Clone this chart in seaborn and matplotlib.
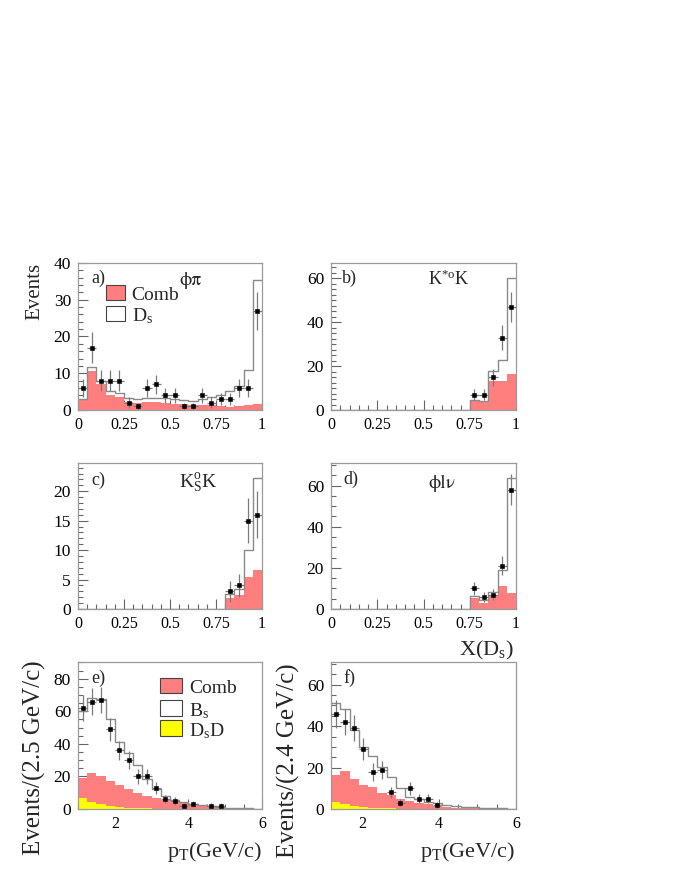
import numpy as np
import pandas as pd
import matplotlib
matplotlib.use("Agg")
import matplotlib.pyplot as plt
import seaborn as sns
from matplotlib.ticker import MultipleLocator, FixedLocator, FixedFormatter
from matplotlib.patches import Rectangle

# ---------------- data ----------------
# X(Ds) panels: 20 bins of 0.05 from 0 to 1
a_comb = [2.6, 10.7, 7.0, 4.1, 3.6, 2.2, 1.9, 2.1, 2.1, 1.8,
          1.6, 1.5, 1.4, 1.4, 1.4, 1.1, 0.9, 1.1, 1.3, 1.7]
a_total = [3.0, 11.6, 8.0, 5.2, 4.7, 3.4, 3.0, 3.2, 3.4, 3.2,
           3.0, 2.6, 2.4, 3.1, 3.6, 4.0, 5.2, 6.4, 10.8, 35.5]
a_data = [6, 17, 8, 8, 8, 2, 1, 6, 7, 4, 4, 1, 1, 4, 2, 3, 3, 6, 6, 27]

b_comb = [0] * 15 + [4.1, 3.8, 13.1, 13.1, 16.6]
b_total = [0] * 15 + [4.5, 4.1, 17.8, 22.7, 60.0]
b_data = [0] * 15 + [7, 7, 15, 33, 47]

c_comb = [0] * 16 + [1.8, 2.3, 5.5, 6.6]
c_total = [0] * 16 + [2.5, 3.4, 10.0, 22.3]
c_data = [0] * 16 + [3, 4, 15, 16]

d_comb = [0] * 15 + [5.3, 2.9, 6.1, 11.4, 8.0]
d_total = [0] * 15 + [6.4, 4.5, 8.5, 19.0, 63.7]
d_data = [0] * 15 + [10, 6, 7, 21, 58]

# pT panels
e_comb = [19.0, 22.0, 20.5, 17.4, 14.8, 12.0, 10.0, 8.0, 6.6, 5.5,
          4.5, 3.5, 2.8, 2.2, 1.7, 1.2, 0.8, 0.5, 0.3, 0.2]
e_dsd = [7.0, 4.5, 3.2, 1.9, 1.3, 0.9, 0.6, 0.4, 0.3, 0.2,
         0.15, 0.1, 0.1, 0.05, 0.05, 0, 0, 0, 0, 0]
e_total = [60.0, 68.0, 67.5, 55.0, 41.0, 34.5, 27.0, 18.5, 12.0, 8.0,
           5.5, 4.0, 3.2, 2.5, 1.8, 1.4, 0.9, 0.6, 0.4, 0.2]
e_data = [62, 66, 67, 49, 36, 30, 20, 20, 13, 6, 5, 2, 3, 0, 2, 2, 0, 0, 0, 0]

f_comb = [16.4, 18.4, 14.4, 11.6, 10.5, 7.6, 6.8, 4.7, 4.0, 3.0,
          2.3, 1.6, 1.1, 0.7, 0.5, 0.3, 0.2, 0.1, 0.1, 0.05]
f_dsd = [3.5, 2.4, 1.5, 1.0, 0.7, 0.5, 0.3, 0.2, 0.15, 0.1,
         0.05, 0, 0, 0, 0, 0, 0, 0, 0, 0]
f_total = [51.0, 48.5, 38.0, 30.0, 25.5, 20.5, 15.5, 10.0, 6.0, 4.7,
           3.5, 2.7, 2.0, 1.5, 1.1, 0.8, 0.6, 0.4, 0.3, 0.2]
f_data = [46, 42, 39, 29, 18, 19, 8, 3, 10, 5, 5, 2, 0, 0, 0, 0, 0, 0, 0, 0]

x_ticks_X = [0, 0.25, 0.5, 0.75, 1]
x_ticklabels_X = ["0", "0.25", "0.5", "0.75", "1"]
x_ticks_pt = [2, 4, 6]
x_ticklabels_pt = ["2", "4", "6"]

# ---------------- style ----------------
sns.set_theme(style="white")
plt.rcParams["font.family"] = ["Liberation Serif", "DejaVu Serif"]
plt.rcParams["mathtext.fontset"] = "custom"
plt.rcParams["mathtext.rm"] = "Liberation Serif"
plt.rcParams["mathtext.it"] = "Liberation Serif:italic"
plt.rcParams["mathtext.bf"] = "Liberation Serif:bold"

RED = "#ff7f7f"
YEL = "#ffff00"
GRAY = "#8a8a8a"
FRAME = "#9a9a9a"
GREEK = ["STIXGeneral", "Liberation Serif", "DejaVu Serif"]

W, H = 674, 872
fig = plt.figure(figsize=(W / 100, H / 100), dpi=100)


def rect(x0, x1, y0, y1):
    return [x0 / W, 1 - y1 / H, (x1 - x0) / W, (y1 - y0) / H]


def draw_panel(ax, edges, comb, total, data, dsd=None):
    edges = np.asarray(edges, float)
    centers = 0.5 * (edges[:-1] + edges[1:])
    half = 0.5 * (edges[1] - edges[0])
    df = pd.DataFrame({"x": centers, "comb": comb, "total": total,
                       "data": np.asarray(data, float)})
    if dsd is not None:
        df["dsd"] = dsd
    bins = edges.tolist()
    sns.histplot(data=df, x="x", weights="comb", bins=bins, element="step", fill=True,
                 color=RED, alpha=1, linewidth=0, ax=ax)
    if dsd is not None:
        sns.histplot(data=df, x="x", weights="dsd", bins=bins, element="step", fill=True,
                     color=YEL, alpha=1, linewidth=0, ax=ax)
    sns.histplot(data=df, x="x", weights="total", bins=bins, element="step", fill=False,
                 color=GRAY, linewidth=1.0, ax=ax)
    pts = df[df["data"] > 0]
    ax.errorbar(pts["x"], pts["data"], yerr=np.sqrt(pts["data"]), xerr=half, fmt="s",
                ms=2.4, mew=0.4, mfc="black", mec="black", ecolor="#7a7a7a",
                elinewidth=0.9, capsize=0, zorder=5)
    ax.set_xlabel("")
    ax.set_ylabel("")


def style_axes(ax, xlim, ylim, xticks, xticklabels, xminor, ymajor, yminor):
    ax.set_xlim(*xlim)
    ax.set_ylim(*ylim)
    ax.xaxis.set_major_locator(FixedLocator(xticks))
    ax.xaxis.set_major_formatter(FixedFormatter(xticklabels))
    ax.xaxis.set_minor_locator(MultipleLocator(xminor))
    ax.yaxis.set_major_locator(MultipleLocator(ymajor))
    ax.yaxis.set_minor_locator(MultipleLocator(yminor))
    ax.tick_params(which="both", direction="in", bottom=True, left=True,
                   top=False, right=False, color="#666666", width=0.8)
    ax.tick_params(which="major", length=7, pad=5)
    ax.tick_params(which="minor", length=3.5)
    ax.tick_params(axis="x", labelsize=11.5, labelcolor="black")
    ax.tick_params(axis="y", labelsize=12.5, labelcolor="black")
    for s in ax.spines.values():
        s.set_color(FRAME)
        s.set_linewidth(0.9)
        s.set_visible(True)
    ax.set_facecolor("white")
    ax.grid(False)


edgesX = np.linspace(0, 1, 21)
edges_e = np.linspace(1.0, 6.0, 21)
edges_f = np.linspace(1.2, 6.0, 21)

axa = fig.add_axes(rect(78, 262, 263, 410))
axb = fig.add_axes(rect(331, 516, 263, 410))
axc = fig.add_axes(rect(78, 262, 463, 609))
axd = fig.add_axes(rect(331, 516, 463, 609))
axe = fig.add_axes(rect(78, 262, 662, 809))
axf = fig.add_axes(rect(331, 516, 662, 809))

draw_panel(axa, edgesX, a_comb, a_total, a_data)
draw_panel(axb, edgesX, b_comb, b_total, b_data)
draw_panel(axc, edgesX, c_comb, c_total, c_data)
draw_panel(axd, edgesX, d_comb, d_total, d_data)
draw_panel(axe, edges_e, e_comb, e_total, e_data, e_dsd)
draw_panel(axf, edges_f, f_comb, f_total, f_data, f_dsd)

style_axes(axa, (0, 1), (0, 40), x_ticks_X, x_ticklabels_X, 0.05, 10, 2)
style_axes(axb, (0, 1), (0, 67), x_ticks_X, x_ticklabels_X, 0.05, 20, 2.5)
style_axes(axc, (0, 1), (0, 24.8), x_ticks_X, x_ticklabels_X, 0.05, 5, 1)
style_axes(axd, (0, 1), (0, 71), x_ticks_X, x_ticklabels_X, 0.05, 20, 5)
style_axes(axe, (1, 6), (0, 90.3), x_ticks_pt, x_ticklabels_pt, 0.5, 20, 5)
style_axes(axf, (1.2, 6), (0, 71), x_ticks_pt, x_ticklabels_pt, 0.5, 20, 5)

# panel annotations
TS = 13
axa.text(0.07, 0.864, "a)", transform=axa.transAxes, fontsize=TS)
axa.text(0.549, 0.85, "\u03d5\u03c0", transform=axa.transAxes, fontsize=TS + 1,
         family=GREEK)
axb.text(0.06, 0.862, "b)", transform=axb.transAxes, fontsize=TS)
axb.text(0.524, 0.85, r"K$^{*\rm o}$K", transform=axb.transAxes, fontsize=TS)
axc.text(0.07, 0.853, "c)", transform=axc.transAxes, fontsize=TS)
axc.text(0.549, 0.83, r"K$^{\rm o}_{\rm S}$K", transform=axc.transAxes, fontsize=TS + 1)
axd.text(0.067, 0.86, "d)", transform=axd.transAxes, fontsize=TS)
axd.text(0.524, 0.832, "\u03d5l\u03bd", transform=axd.transAxes, fontsize=TS + 1,
         family=GREEK)
axe.text(0.07, 0.859, "e)", transform=axe.transAxes, fontsize=TS)
axf.text(0.067, 0.857, "f)", transform=axf.transAxes, fontsize=TS)


def legend_entry(ax, x0, x1, y0, y1, color, label):
    ax.add_patch(Rectangle((x0, y0), x1 - x0, y1 - y0, transform=ax.transAxes,
                           facecolor=color, edgecolor="#444444", linewidth=0.8,
                           zorder=6))
    ax.text(x1 + 0.037, y0, label, transform=ax.transAxes, fontsize=14,
            va="baseline", ha="left", zorder=6)


legend_entry(axa, 0.152, 0.255, 0.748, 0.850, RED, "Comb")
legend_entry(axa, 0.152, 0.255, 0.605, 0.707, "white", r"D$_{\rm s}$")

legend_entry(axe, 0.446, 0.565, 0.789, 0.891, RED, "Comb")
legend_entry(axe, 0.446, 0.565, 0.633, 0.741, "white", r"B$_{\rm s}$")
legend_entry(axe, 0.446, 0.565, 0.497, 0.605, YEL, r"D$_{\rm s}$D")

# axis titles
fig.text(35 / W, 1 - 263 / H, "Events", rotation=90, ha="center", va="top", fontsize=15)
fig.text(34 / W, 1 - 660 / H, "Events/(2.5 GeV/c)", rotation=90, ha="center",
         va="top", fontsize=18)
fig.text(288 / W, 1 - 663 / H, "Events/(2.4 GeV/c)", rotation=90, ha="center",
         va="top", fontsize=18)
fig.text(262 / W, 1 - 857 / H, r"p$_{\rm T}$(GeV/c)", ha="right", va="baseline", fontsize=16)
fig.text(515 / W, 1 - 857 / H, r"p$_{\rm T}$(GeV/c)", ha="right", va="baseline", fontsize=16)
fig.text(514 / W, 1 - 655 / H, r"X(D$_{\rm s}$)", ha="right", va="baseline", fontsize=16)

fig.savefig("out.png", dpi=100, facecolor="white")
